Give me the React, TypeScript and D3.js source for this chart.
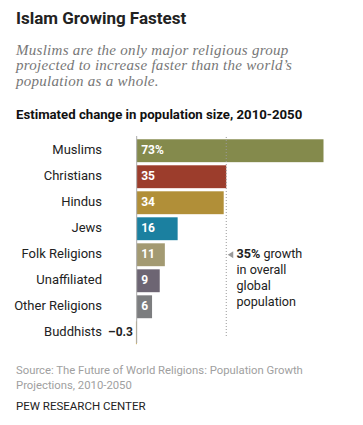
import React from "react";
import * as d3 from "d3";

const categories = ["Muslims", "Christians", "Hindus", "Jews", "Folk Religions", "Unaffiliated", "Other Religions", "Buddhists"];
const values = [73, 35, 34, 16, 11, 9, 6, -0.3];
const valueLabels = ["73%", "35", "34", "16", "11", "9", "6", "\u20130.3"];
const barColors = ["#848a4c", "#9c3d2c", "#b18f38", "#1b80a0", "#a39a72", "#6d6573", "#7c7d7f", "#c4a040"];
const globalGrowth = 35;
const subtitleLines = [
  "Muslims are the only major religious group",
  "projected to increase faster than the world\u2019s",
  "population as a whole.",
];
const sourceLines = [
  "Source: The Future of World Religions: Population Growth",
  "Projections, 2010-2050",
];

const W = 363;
const H = 425;
const sans = "Roboto, 'Liberation Sans', sans-serif";

export default function App() {
  const x = d3.scaleLinear().domain([0, 73]).range([136.7, 323.5]);
  const y = d3.scaleBand<string>().domain(categories).range([138.5, 345]).paddingInner(0.12).paddingOuter(0.03);
  const bw = y.bandwidth();
  const gx = x(globalGrowth);
  const annY = (y("Folk Religions") as number) + bw / 2;

  return (
    <svg width={W} height={H} style={{ position: "absolute", left: 0, top: 0, background: "#fff" }}>
      <text x={16} y={24} fontFamily={sans} fontWeight={700} fontSize={17} fill="#222">Islam Growing Fastest</text>
      {subtitleLines.map((t, i) => (
        <text key={i} x={16} y={54.5 + i * 15.5} fontFamily="'Liberation Serif', 'DejaVu Serif', serif" fontStyle="italic" fontSize={15} letterSpacing={0.28} fill="#777">{t}</text>
      ))}
      <text x={16} y={119} fontFamily={sans} fontWeight={700} fontSize={13.2} fill="#111">Estimated change in population size, 2010-2050</text>

      {categories.map((c, i) => {
        const v = values[i];
        const y0 = y(c) as number;
        const x0 = x(Math.min(0, v));
        const w = Math.abs(x(v) - x(0));
        return (
          <g key={c}>
            <rect x={x0} y={y0} width={Math.max(w, 0.8)} height={bw} fill={barColors[i]} />
            <text x={102} y={y0 + bw / 2 - 0.5} dominantBaseline="middle" textAnchor="end" fontFamily={sans} fontSize={13} fill="#222">{c}</text>
            {v > 2 ? (
              <text x={x(0) + 4.5} y={y0 + bw / 2 + 0.5} dominantBaseline="middle" fontFamily={sans} fontWeight={700} fontSize={12} fill="#fff">{valueLabels[i]}</text>
            ) : (
              <text x={x(Math.min(0, v)) - 3} y={y0 + bw / 2 + 0.5} dominantBaseline="middle" textAnchor="end" fontFamily={sans} fontWeight={700} fontSize={12} fill="#222">{valueLabels[i]}</text>
            )}
          </g>
        );
      })}

      <line x1={x(0)} x2={x(0)} y1={136} y2={343} stroke="#aaa" strokeWidth={1} />
      <line x1={gx} x2={gx} y1={137} y2={338} stroke="#999" strokeWidth={1} strokeDasharray="1,2" />

      <path d={`M${gx + 1.5},${annY} L${gx + 7},${annY - 3.5} L${gx + 7},${annY + 3.5} Z`} fill="#999" />
      <text x={236.5} y={annY} dominantBaseline="middle" fontFamily={sans} fontSize={12.6} fill="#222">
        <tspan fontWeight={700}>35%</tspan> growth
      </text>
      <text x={236.5} y={annY + 16} dominantBaseline="middle" fontFamily={sans} fontSize={12.6} fill="#222">in overall</text>
      <text x={236.5} y={annY + 32} dominantBaseline="middle" fontFamily={sans} fontSize={12.6} fill="#222">global</text>
      <text x={236.5} y={annY + 48} dominantBaseline="middle" fontFamily={sans} fontSize={12.6} fill="#222">population</text>

      {sourceLines.map((t, i) => (
        <text key={i} x={16} y={374 + i * 15} fontFamily={sans} fontSize={11.3} fill="#a0a0a0">{t}</text>
      ))}
      <text x={16} y={410} fontFamily={sans} fontSize={11.5} fill="#222">PEW RESEARCH CENTER</text>
    </svg>
  );
}
